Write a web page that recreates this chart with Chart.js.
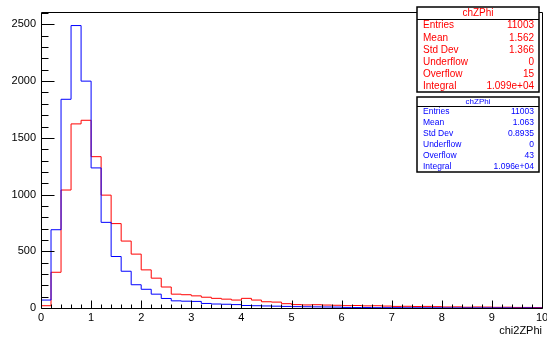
<!DOCTYPE html>
<html>
<head>
<meta charset="utf-8">
<script src="https://cdn.jsdelivr.net/npm/chart.js@4.4.0/dist/chart.umd.min.js"></script>
<style>
  html, body { margin: 0; padding: 0; background: #fff; }
</style>
</head>
<body>
<canvas id="histo" width="547" height="339"></canvas>
<script>
// Histogram binning (50 bins from 0 to 10)
const xMin = 0;
const xMax = 10;
const binWidth = 0.2;

// Bin contents
const redCounts = [20, 315, 1040, 1623, 1655, 1334, 995, 744, 590, 475,
                   336, 263, 185, 122, 117, 107, 95, 85, 78, 70,
                   85, 70, 55, 52, 38, 30, 27, 29, 26, 24,
                   21, 22, 19, 20, 17, 14, 15, 13, 14, 12,
                   9, 10, 7, 9, 8, 6, 7, 5, 5, 4];
const blueCounts = [70, 690, 1840, 2490, 2000, 1235, 755, 454, 324, 205,
                    165, 122, 84, 63, 60, 58, 40, 35, 33, 30,
                    22, 20, 18, 16, 14, 12, 11, 10, 9, 8,
                    5, 4, 4, 3, 3, 3, 2, 2, 2, 2,
                    1, 1, 1, 1, 1, 1, 1, 0, 1, 0];

// Axis ticks
const xTickValues = [0, 1, 2, 3, 4, 5, 6, 7, 8, 9, 10];
const yTickValues = [0, 500, 1000, 1500, 2000, 2500];
const yMax = 2613;
const xMinorStep = 0.2;
const yMinorStep = 100;
const xTitle = 'chi2ZPhi';

// Stats boxes
const histName = 'chZPhi';
const statLabels = ['Entries', 'Mean', 'Std Dev', 'Underflow', 'Overflow', 'Integral'];
const redStats = ['11003', '1.562', '1.366', '0', '15', '1.099e+04'];
const blueStats = ['11003', '1.063', '0.8935', '0', '43', '1.096e+04'];

const FONT = 'Liberation Sans, Arial, Helvetica, sans-serif';

// turn bin contents into points for a step line (last point closes the last bin)
function toSteps(counts) {
    const pts = counts.map((c, i) => ({ x: xMin + i * binWidth, y: c }));
    pts.push({ x: xMax, y: counts[counts.length - 1] });
    return pts;
}

function drawStatBox(ctx, box, color, values) {
    ctx.save();
    ctx.fillStyle = '#fff';
    ctx.fillRect(box.x, box.y, box.w, box.h);
    ctx.strokeStyle = '#000';
    ctx.lineWidth = 1.5;
    ctx.strokeRect(box.x, box.y, box.w, box.h);
    // line under the title
    ctx.lineWidth = 1;
    ctx.beginPath();
    ctx.moveTo(box.x, box.y + box.titleH + 0.5);
    ctx.lineTo(box.x + box.w, box.y + box.titleH + 0.5);
    ctx.stroke();

    ctx.fillStyle = color;
    ctx.textBaseline = 'middle';
    ctx.textAlign = 'center';
    ctx.font = box.titleFont + 'px ' + FONT;
    ctx.fillText(histName, box.x + box.w / 2, box.y + box.titleH / 2 + 0.5);

    const rowH = (box.h - box.titleH) / statLabels.length;
    ctx.font = box.font + 'px ' + FONT;
    statLabels.forEach((lab, i) => {
        const yy = box.y + box.titleH + rowH * (i + 0.5) + 0.5;
        ctx.textAlign = 'left';
        ctx.fillText(lab, box.x + 6, yy);
        ctx.textAlign = 'right';
        ctx.fillText(values[i], box.x + box.w - 5, yy);
    });
    ctx.restore();
}

// ROOT style frame, inside ticks and stats boxes
const rootFrame = {
    id: 'rootFrame',
    afterDatasetsDraw(chart) {
        const { ctx, chartArea: a, scales: { x, y } } = chart;
        const L = Math.round(a.left) + 0.5, R = Math.round(a.right) + 0.5;
        const T = Math.round(a.top) + 0.5, B = Math.round(a.bottom) + 0.5;
        ctx.save();
        ctx.strokeStyle = '#000';
        ctx.lineWidth = 1;
        ctx.beginPath();
        ctx.rect(L, T, R - L, B - T);
        // y ticks
        for (let v = 0; v <= yMax; v += yMinorStep) {
            const py = Math.round(y.getPixelForValue(v)) + 0.5;
            const len = v % 500 === 0 ? 13 : 7;
            ctx.moveTo(L, py);
            ctx.lineTo(L + len, py);
        }
        // x ticks
        for (let i = 0; i <= Math.round((xMax - xMin) / xMinorStep); i++) {
            const v = xMin + i * xMinorStep;
            const px = Math.round(x.getPixelForValue(v)) + 0.5;
            const len = i % 5 === 0 ? 8 : 4;
            ctx.moveTo(px, B);
            ctx.lineTo(px, B - len);
        }
        ctx.stroke();
        ctx.restore();

        drawStatBox(ctx, { x: 417, y: 7, w: 122, h: 85, titleH: 12, titleFont: 10, font: 10 }, '#ff0000', redStats);
        drawStatBox(ctx, { x: 417, y: 97, w: 122, h: 75, titleH: 9, titleFont: 8, font: 8.5 }, '#0000ff', blueStats);
    }
};

new Chart(document.getElementById('histo'), {
    type: 'line',
    data: {
        datasets: [{
            label: histName + ' (2)',
            data: toSteps(blueCounts),
            borderColor: '#0000ff',
            borderWidth: 1,
            pointRadius: 0,
            stepped: 'before',
            fill: false
        }, {
            label: histName,
            data: toSteps(redCounts),
            borderColor: '#ff0000',
            borderWidth: 1,
            pointRadius: 0,
            stepped: 'before',
            fill: false
        }]
    },
    options: {
        responsive: false,
        animation: false,
        layout: { padding: { top: 7, right: 5, left: 0, bottom: 0 } },
        plugins: {
            legend: { display: false },
            tooltip: { enabled: false }
        },
        scales: {
            x: {
                type: 'linear',
                min: xMin,
                max: xMax,
                afterBuildTicks: s => { s.ticks = xTickValues.map(v => ({ value: v })); },
                afterFit: s => { s.height = 31; s.paddingLeft = 0; s.paddingRight = 0; },
                grid: { display: false, drawTicks: false },
                border: { display: false },
                ticks: {
                    color: '#000',
                    font: { family: FONT, size: 11 },
                    padding: 3,
                    maxRotation: 0,
                    autoSkip: false,
                    callback: v => String(v)
                },
                title: {
                    display: true,
                    text: xTitle,
                    align: 'end',
                    color: '#000',
                    font: { family: FONT, size: 11 },
                    padding: { top: 0, bottom: 1 }
                }
            },
            y: {
                min: 0,
                max: yMax,
                afterBuildTicks: s => { s.ticks = yTickValues.map(v => ({ value: v })); },
                afterFit: s => { s.width = 41; },
                grid: { display: false, drawTicks: false },
                border: { display: false },
                ticks: {
                    color: '#000',
                    font: { family: FONT, size: 11 },
                    padding: 5,
                    callback: v => String(v)
                }
            }
        }
    },
    plugins: [rootFrame]
});
</script>
</body>
</html>
